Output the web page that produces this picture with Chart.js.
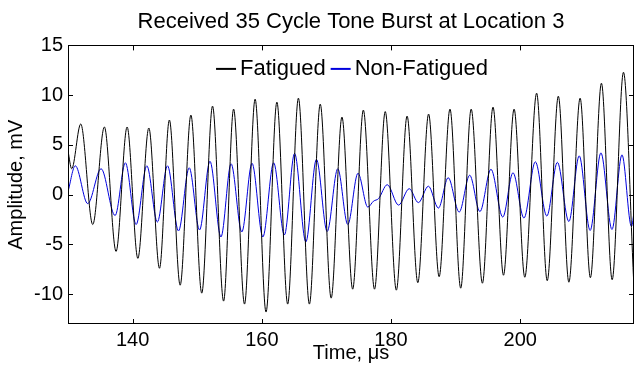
<!DOCTYPE html>
<html>
<head>
<meta charset="utf-8">
<script src="https://cdn.jsdelivr.net/npm/chart.js@4"></script>
<style>
  body { margin: 0; background: #fff; }
  #wrap { width: 635px; height: 373px; }
</style>
</head>
<body>
<div id="wrap"><canvas id="myChart" width="635" height="373"></canvas></div>
<script>
// peaks and troughs (time in us, amplitude in mV)
const fatiguedT = [130.0, 130.57, 131.97, 133.83, 135.63, 137.44, 139.15, 140.81, 142.51, 144.16,
  145.69, 147.36, 149.02, 150.70, 152.37, 154.08, 155.63, 157.32, 158.96, 160.65,
  162.33, 164.00, 165.66, 167.36, 169.04, 170.73, 172.40, 174.06, 175.71, 177.44,
  179.10, 180.82, 182.48, 184.14, 185.81, 187.44, 189.12, 190.78, 192.40, 194.14,
  195.78, 197.40, 199.04, 200.70, 202.53, 204.17, 205.89, 207.52, 209.26, 210.85,
  212.56, 214.22, 215.97, 217.55]
const fatiguedV = [4.4, 2.6, 7.1, -3.0, 6.8, -5.7, 6.8, -6.4, 6.7, -7.4,
  7.5, -9.1, 8.0, -9.9, 8.9, -10.7, 8.6, -11.0, 9.6, -11.8,
  9.3, -11.0, 9.7, -11.0, 9.1, -10.4, 7.8, -9.5, 8.5, -9.5,
  8.35, -9.6, 7.9, -8.85, 8.1, -8.25, 8.6, -9.4, 8.6, -8.9,
  8.8, -8.1, 8.6, -8.3, 10.2, -8.65, 9.9, -8.8, 9.7, -8.35,
  11.2, -8.55, 12.3, -8.7]

const nonFatiguedT = [130.0, 131.13, 133.05, 135.12, 137.29, 138.88, 140.54, 142.20, 143.83, 145.40,
  147.10, 148.76, 150.36, 151.97, 153.67, 155.24, 156.90, 158.48, 160.16, 161.83,
  163.49, 165.07, 166.81, 168.45, 170.11, 171.75, 173.30, 174.88, 176.40, 177.29,
  178.06, 179.41, 181.16, 182.81, 184.23, 185.78, 187.33, 188.84, 190.54, 192.17,
  193.75, 195.46, 197.29, 198.87, 200.57, 202.33, 204.11, 205.74, 207.52, 209.12,
  210.81, 212.48, 214.19, 215.74, 217.21, 217.64]
const nonFatiguedV = [0.3, 2.9, -0.9, 2.6, -2.1, 3.2, -3.0, 2.9, -2.75, 2.9,
  -3.65, 2.7, -3.55, 3.35, -4.25, 3.1, -3.75, 3.15, -4.25, 3.2,
  -4.05, 4.15, -4.75, 3.55, -3.7, 2.6, -3.0, 2.15, -1.25, -0.65,
  -0.4, 1.0, -1.05, 0.6, -0.8, 0.85, -1.35, 1.7, -1.75, 1.95,
  -1.7, 2.55, -2.25, 2.2, -2.35, 3.3, -2.15, 3.25, -2.7, 3.9,
  -3.6, 4.2, -3.5, 4.0, -3.2, -1.6]

const xTicks = [140, 160, 180, 200]
const yTicks = [-10, -5, 0, 5, 10, 15]

const font = 'Liberation Sans, Arial, Helvetica, sans-serif'

const toPoints = (ts, vs) => ts.map((t, i) => ({ x: t, y: vs[i] }))

// matlab style box with inward ticks on all four sides
const boxPlugin = {
  id: 'box',
  afterDatasetsDraw (chart) {
    const { ctx, chartArea: a, scales: { x, y } } = chart
    ctx.save()
    ctx.strokeStyle = '#000'
    ctx.lineWidth = 1
    ctx.strokeRect(Math.round(a.left) + 0.5, Math.round(a.top) + 0.5,
      Math.round(a.width) - 1, Math.round(a.height) - 1)
    ctx.beginPath()
    xTicks.forEach(v => {
      const px = Math.round(x.getPixelForValue(v)) + 0.5
      ctx.moveTo(px, a.bottom); ctx.lineTo(px, a.bottom - 5)
      ctx.moveTo(px, a.top); ctx.lineTo(px, a.top + 5)
    })
    yTicks.forEach(v => {
      const py = Math.round(y.getPixelForValue(v)) + 0.5
      ctx.moveTo(a.left, py); ctx.lineTo(a.left + 5, py)
      ctx.moveTo(a.right, py); ctx.lineTo(a.right - 5, py)
    })
    ctx.stroke()
    ctx.restore()
  }
}

// legend sits inside the axes, one row, line then label
const legendPlugin = {
  id: 'innerLegend',
  afterDraw (chart) {
    const { ctx, chartArea: a } = chart
    const sets = chart.data.datasets
    ctx.save()
    ctx.font = '22px ' + font
    ctx.textBaseline = 'alphabetic'
    const widths = sets.map(d => ctx.measureText(d.label).width)
    const total = widths.reduce((s, w) => s + 24 + w, 0) + 5 * (sets.length - 1)
    let cx = (a.left + a.right) / 2 + 1 - total / 2
    const ly = a.top + 23.5
    sets.forEach((d, i) => {
      ctx.strokeStyle = d.borderColor
      ctx.lineWidth = 2
      ctx.beginPath()
      ctx.moveTo(cx, ly); ctx.lineTo(cx + 20, ly)
      ctx.stroke()
      ctx.fillStyle = '#000'
      ctx.fillText(d.label, cx + 24, ly + 6.5)
      cx += 24 + widths[i] + 5
    })
    ctx.restore()
  }
}

const ctx = document.getElementById('myChart').getContext('2d')
const myChart = new Chart(ctx, {
  type: 'line',
  data: {
    datasets: [{
      label: 'Fatigued',
      data: toPoints(fatiguedT, fatiguedV),
      borderColor: '#000000',
      borderWidth: 1,
      pointRadius: 0,
      cubicInterpolationMode: 'monotone'
    }, {
      label: 'Non-Fatigued',
      data: toPoints(nonFatiguedT, nonFatiguedV),
      borderColor: '#0000dd',
      borderWidth: 1,
      pointRadius: 0,
      cubicInterpolationMode: 'monotone'
    }]
  },
  options: {
    responsive: false,
    animation: false,
    devicePixelRatio: 1,
    layout: { padding: { right: 1 } },
    scales: {
      x: {
        type: 'linear',
        min: 130,
        max: 217.6,
        afterBuildTicks: s => { s.ticks = xTicks.map(v => ({ value: v })) },
        afterFit: s => { s.height = 49 },
        grid: { display: false, drawTicks: false },
        border: { display: false },
        ticks: { color: '#000', padding: 4, font: { family: font, size: 20 } },
        title: {
          display: true,
          text: 'Time, μs',
          color: '#000',
          padding: { top: 0, bottom: 8 },
          font: { family: font, size: 20 }
        }
      },
      y: {
        min: -13,
        max: 15,
        afterBuildTicks: s => { s.ticks = yTicks.map(v => ({ value: v })) },
        afterFit: s => { s.width = 68 },
        grid: { display: false, drawTicks: false },
        border: { display: false },
        ticks: { color: '#000', padding: 5, font: { family: font, size: 20 } },
        title: {
          display: true,
          text: 'Amplitude, mV',
          color: '#000',
          padding: { top: 4, bottom: 0 },
          font: { family: font, size: 20 }
        }
      }
    },
    plugins: {
      title: {
        display: true,
        fullSize: false,
        text: 'Received 35 Cycle Tone Burst at Location 3',
        color: '#000',
        padding: { top: 9, bottom: 10 },
        font: { family: font, size: 22, weight: 'normal' }
      },
      legend: { display: false },
      tooltip: { enabled: false }
    }
  },
  plugins: [boxPlugin, legendPlugin]
})
</script>
</body>
</html>
